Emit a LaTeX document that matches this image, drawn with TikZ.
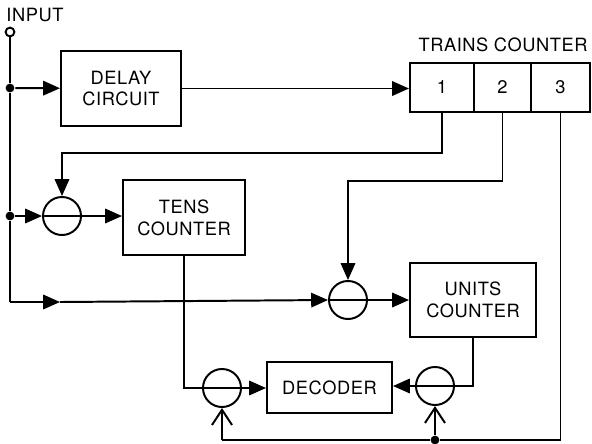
\documentclass[tikz,border=0pt]{standalone}
\usepackage{fontspec}
\setmainfont{TeX Gyre Heros}[LetterSpace=3]
\usetikzlibrary{arrows.meta}

\begin{document}
\begin{tikzpicture}[x=0.025cm, y=-0.025cm, line width=1.4pt,
  box/.style={draw, align=center, inner sep=0pt, font=\fontsize{13}{15.5}\selectfont},
  cell/.style={draw, minimum height=1.225cm, inner sep=0pt, font=\fontsize{13}{15.5}\selectfont},
  sumcirc/.style={draw, circle, minimum size=0.95cm, inner sep=0pt,
    path picture={\draw (path picture bounding box.west) -- (path picture bounding box.east);}},
  dot/.style={fill, circle, minimum size=0.22cm, inner sep=0pt},
  arr/.style={-{Triangle[length=4.2mm, width=3.6mm]}},
  openarr/.style={-{Straight Barb[length=3.8mm, width=5mm, line width=1.4pt]}}]

\useasboundingbox (0, 0) rectangle (592, 443);

% Input terminal
\node (input) at (10, 32) [draw, circle, minimum size=0.22cm, inner sep=0pt] {};
\node (inlabel) at (35, 15) [font=\fontsize{13}{15.5}\selectfont] {INPUT};

% Delay circuit
\node (delay) at (121, 88.5) [box, minimum width=3cm, minimum height=1.875cm] {DELAY\\CIRCUIT};

% Trains counter (three stages)
\node (tr1) at (442, 87.5) [cell, minimum width=1.6cm] {1};
\node (tr2) at (502.5, 87.5) [cell, minimum width=1.425cm] {2};
\node (tr3) at (560.5, 87.5) [cell, minimum width=1.475cm] {3};
\node (trlabel) at (503, 45) [font=\fontsize{13}{15.5}\selectfont] {TRAINS COUNTER};

% Tens counter and units counter
\node (tens) at (184, 217.5) [box, minimum width=3.05cm, minimum height=1.875cm] {TENS\\COUNTER};
\node (units) at (473, 300) [box, minimum width=3.15cm, minimum height=1.85cm] {UNITS\\COUNTER};

% Decoder
\node (decoder) at (329.5, 387.5) [box, minimum width=3.125cm, minimum height=1.275cm] {DECODER};

% Gates
\node (gate1) at (62, 216) [sumcirc] {};
\node (gate2) at (348, 300) [sumcirc] {};
\node (gate3) at (222, 388) [sumcirc] {};
\node (gate4) at (435, 386) [sumcirc] {};

% Junctions
\node (dot1) at (10, 88) [dot] {};
\node (dot2) at (10, 216) [dot] {};
\node (dot3) at (435, 440) [dot] {};
\coordinate (corner) at (10, 302);
\coordinate (midarr) at (60, 302);
\coordinate (bottom) at (222, 440);

% Input line
\draw (input) -- (dot1) -- (dot2) -- (corner);
\draw[arr] (dot1) -- (delay);
\draw[arr] (delay) -- (tr1.west |- delay);

% Stage 1 to tens counter
\draw[arr] (tr1.south) -- ++(0, 40) -| (gate1.north);
\draw[arr] (dot2) -- (gate1);
\draw[arr] (gate1.east) -- (gate1 -| tens.west);

% Stage 2 to units counter
\draw[arr] (tr2.south) -- ++(0, 68) -| (gate2.north);
\draw[arr] (corner) -- (midarr);
\draw[arr] (midarr) -- (gate2.west);
\draw[arr] (gate2.east) -- (units.west);

% Counters to decoder
\draw (tens.south) |- (gate3.west);
\draw[arr] (gate3.east) -- (gate3 -| decoder.west);
\draw (units.south) |- (gate4.east);
\draw[arr] (gate4.west) -- (gate4 -| decoder.east);

% Stage 3 enables the gates
\draw (tr3.south) |- (dot3) -- (bottom);
\draw[openarr] (bottom) -- (gate3.south);
\draw[openarr] (dot3) -- (gate4.south);

\end{tikzpicture}
\end{document}
